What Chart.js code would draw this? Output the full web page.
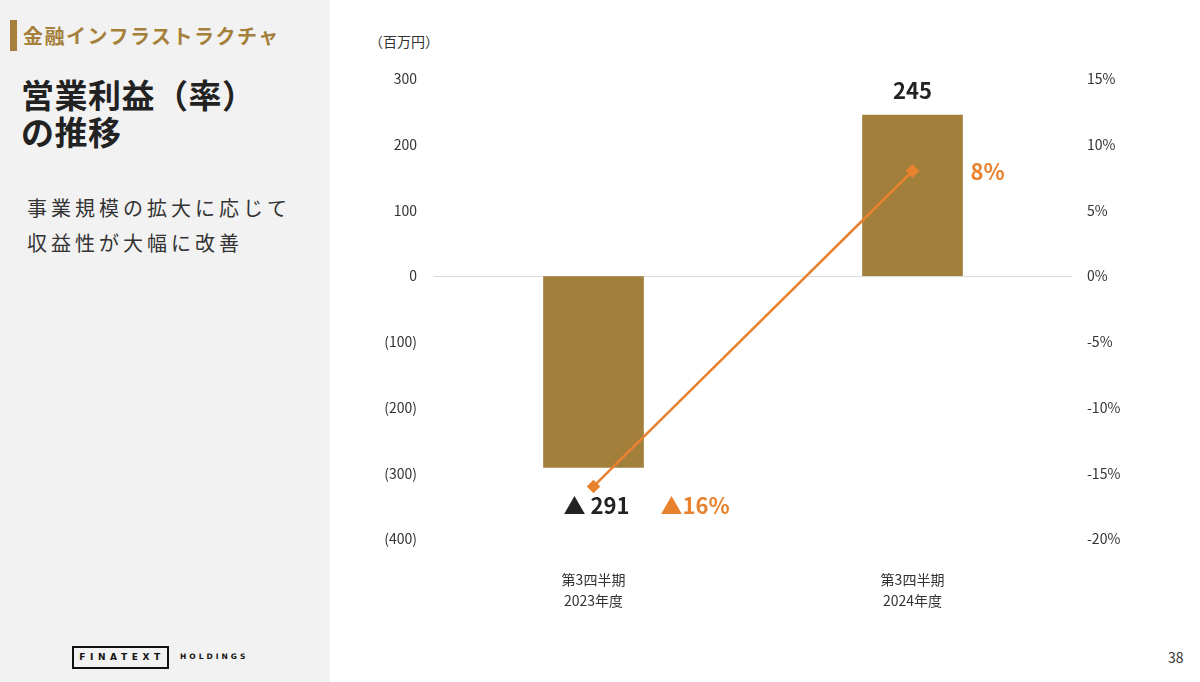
<!DOCTYPE html>
<html lang="ja">
<head>
<meta charset="utf-8">
<script src="https://cdn.jsdelivr.net/npm/chart.js@4"></script>
<style>
  html, body { margin: 0; padding: 0; }
  body { width: 1200px; height: 682px; position: relative; background: #fff; font-family: "Noto Sans CJK JP", "Noto Sans", sans-serif; overflow: hidden; }
  .side { position: absolute; left: 0; top: 0; width: 330px; height: 682px; background: #f2f2f2; }
  .tag { position: absolute; left: 10px; top: 20px; height: 31px; border-left: 7px solid #a5803a; padding-left: 6px; color: #a5803a; font-size: 20px; font-weight: 700; line-height: 31px; letter-spacing: 1.5px; }
  .title { position: absolute; left: 21px; top: 76px; color: #222; font-size: 33px; font-weight: 700; line-height: 37px; letter-spacing: 0.5px; }
  .sub { position: absolute; left: 27px; top: 190px; color: #333; font-size: 20px; line-height: 35px; letter-spacing: 4px; }
  .logo { position: absolute; left: 72px; top: 646px; width: 90px; height: 19px; border: 2px solid #111; font-size: 9px; font-weight: 700; letter-spacing: 4.6px; line-height: 19px; text-align: center; color: #111; font-family: "DejaVu Sans", sans-serif; padding-left: 3px; white-space: nowrap; }
  .hold { position: absolute; left: 180px; top: 652px; font-size: 7.5px; font-weight: 700; letter-spacing: 3px; color: #111; font-family: "DejaVu Sans", sans-serif; white-space: nowrap; }
  .unit { position: absolute; left: 369px; top: 31px; font-size: 14px; color: #333; }
  .page { position: absolute; left: 1168px; top: 647px; font-size: 14px; color: #333; }
  #wrap { position: absolute; left: 330px; top: 0; width: 870px; height: 682px; }
</style>
</head>
<body>
<div class="side">
  <div class="tag">金融インフラストラクチャ</div>
  <div class="title">営業利益（率）<br>の推移</div>
  <div class="sub">事業規模の拡大に応じて<br>収益性が大幅に改善</div>
  <div class="logo">FINATEXT</div>
  <div class="hold">HOLDINGS</div>
</div>
<div class="unit">（百万円）</div>
<div class="page">38</div>
<div id="wrap"><canvas id="chart"></canvas></div>
<script>
const categories = [['第3四半期', '2023年度'], ['第3四半期', '2024年度']];
const operatingProfit = [-291, 245];
const profitRate = [-16, 8];
const leftTicks = { min: -400, max: 300, step: 100 };
const rightTicks = { min: -20, max: 15, step: 5 };

const barColor = '#a27f3b';
const lineColor = '#e8822f';

const labelPlugin = {
  id: 'valueLabels',
  afterDatasetsDraw(chart) {
    const ctx = chart.ctx;
    ctx.save();
    ctx.textBaseline = 'middle';
    const bars = chart.getDatasetMeta(0).data;
    bars.forEach((bar, i) => {
      const v = operatingProfit[i];
      ctx.font = 'bold 22px "Noto Sans CJK JP", sans-serif';
      ctx.fillStyle = '#222';
      ctx.textAlign = 'center';
      if (v >= 0) {
        ctx.fillText(String(v), bar.x, bar.y - 25);
      } else {
        ctx.fillText('▲ ' + Math.abs(v), bar.x + 3, bar.y + 38);
      }
    });
    const pts = chart.getDatasetMeta(1).data;
    pts.forEach((pt, i) => {
      const v = profitRate[i];
      ctx.font = 'bold 22px "Noto Sans CJK JP", sans-serif';
      ctx.fillStyle = lineColor;
      ctx.textAlign = 'left';
      if (v >= 0) {
        ctx.fillText(v + '%', pt.x + 58, pt.y + 1);
      } else {
        ctx.fillText('▲' + Math.abs(v) + '%', pt.x + 67, pt.y + 19);
      }
    });
    ctx.restore();
  }
};

new Chart(document.getElementById('chart'), {
  type: 'bar',
  data: {
    labels: categories,
    datasets: [
      {
        type: 'bar',
        data: operatingProfit,
        backgroundColor: barColor,
        barThickness: 100,
        yAxisID: 'y',
        order: 2,
      },
      {
        type: 'line',
        data: profitRate,
        borderColor: lineColor,
        backgroundColor: lineColor,
        borderWidth: 2.5,
        pointStyle: 'rectRot',
        pointRadius: 5,
        yAxisID: 'y1',
        order: 1,
      },
    ],
  },
  options: {
    responsive: true,
    maintainAspectRatio: false,
    animation: false,
    layout: { padding: { top: 79, left: 0, right: 0, bottom: 0 } },
    plugins: { legend: { display: false }, tooltip: { enabled: false } },
    scales: {
      x: {
        grid: { display: false, drawTicks: false },
        border: { display: false },
        ticks: { padding: 30, color: '#333', font: { size: 14, family: '"Noto Sans CJK JP"', lineHeight: 1.5 } },
        afterFit: (s) => { s.height = 143; },
      },
      y: {
        position: 'left',
        min: leftTicks.min,
        max: leftTicks.max,
        ticks: {
          stepSize: leftTicks.step,
          padding: 17,
          color: '#333',
          font: { size: 14, family: '"Noto Sans CJK JP"' },
          callback: (v) => (v < 0 ? '(' + Math.abs(v) + ')' : String(v)),
        },
        grid: {
          drawTicks: false,
          color: (c) => (c.tick && c.tick.value === 0 ? '#d9d9d9' : 'transparent'),
        },
        border: { display: false },
        afterFit: (s) => { s.width = 104; },
      },
      y1: {
        position: 'right',
        min: rightTicks.min,
        max: rightTicks.max,
        ticks: {
          stepSize: rightTicks.step,
          padding: 15,
          color: '#333',
          font: { size: 14, family: '"Noto Sans CJK JP"' },
          callback: (v) => v + '%',
        },
        grid: { display: false, drawTicks: false },
        border: { display: false },
        afterFit: (s) => { s.width = 128; },
      },
    },
  },
  plugins: [labelPlugin],
});
</script>
</body>
</html>
